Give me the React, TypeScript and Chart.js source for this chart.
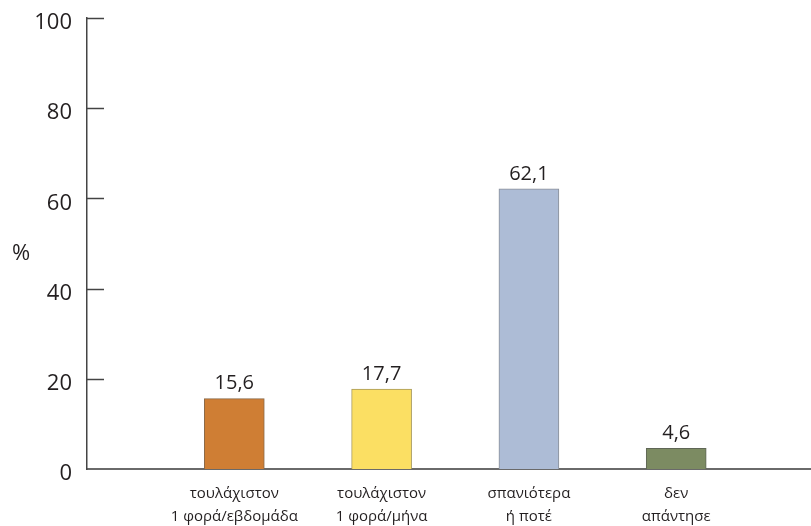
import React, { useEffect, useRef } from "react";
import { Chart, registerables } from "chart.js";

Chart.register(...registerables);

const CATEGORIES: string[][] = [
  ["τουλάχιστον", "1 φορά/εβδομάδα"],
  ["τουλάχιστον", "1 φορά/μήνα"],
  ["σπανιότερα", "ή ποτέ"],
  ["δεν", "απάντησε"],
];
const POSITIONS = [1, 2, 3, 4];
const VALUES = [15.6, 17.7, 62.1, 4.6];
const Y_TICKS = [0, 20, 40, 60, 80, 100];
const COLORS = ["#cf7e34", "#fbdf63", "#adbcd6", "#7c8b62"];
const BORDERS = ["#8a6a4a", "#a99a5a", "#8a8f99", "#5f6656"];
const FONT = "'Open Sans', 'Noto Sans', sans-serif";

const overlay = {
  id: "overlay",
  afterDatasetsDraw(chart: any) {
    const ctx = chart.ctx;
    const yScale = chart.scales.y;
    const area = chart.chartArea;
    ctx.save();
    ctx.strokeStyle = "#444";
    ctx.lineWidth = 1.5;
    Y_TICKS.forEach((v) => {
      if (v === 0) return;
      const py = Math.round(yScale.getPixelForValue(v)) + 0.5;
      ctx.beginPath();
      ctx.moveTo(area.left, py);
      ctx.lineTo(area.left + 17, py);
      ctx.stroke();
    });
    ctx.fillStyle = "#231f20";
    ctx.font = `20px ${FONT}`;
    ctx.textAlign = "center";
    ctx.textBaseline = "bottom";
    const meta = chart.getDatasetMeta(0);
    meta.data.forEach((el: any, i: number) => {
      ctx.fillText(String(VALUES[i]).replace(".", ","), el.x, el.y - 5);
    });
    ctx.font = `22px ${FONT}`;
    ctx.textBaseline = "middle";
    ctx.fillText("%", 21, 254);
    ctx.restore();
  },
};

export default function App() {
  const ref = useRef<HTMLCanvasElement | null>(null);
  useEffect(() => {
    if (!ref.current) return;
    const chart = new Chart(ref.current, {
      type: "bar",
      data: {
        datasets: [
          {
            data: POSITIONS.map((x, i) => ({ x, y: VALUES[i] })),
            backgroundColor: COLORS,
            borderColor: BORDERS,
            borderWidth: 1,
            barThickness: 60,
          },
        ],
      },
      options: {
        animation: false,
        responsive: true,
        maintainAspectRatio: false,
        layout: { padding: { top: 18, right: 0, bottom: 0, left: 0 } },
        plugins: { legend: { display: false }, tooltip: { enabled: false } },
        scales: {
          x: {
            type: "linear",
            offset: false,
            min: 0,
            max: 4.915,
            afterBuildTicks: (scale: any) => {
              scale.ticks = POSITIONS.map((v) => ({ value: v }));
            },
            afterFit: (scale: any) => {
              scale.height = 57;
              scale.paddingLeft = 0;
              scale.paddingRight = 0;
            },
            grid: { display: false, drawTicks: false, offset: false },
            border: { color: "#6a6a6a", width: 2 },
            ticks: {
              autoSkip: false,
              maxRotation: 0,
              padding: 13,
              color: "#231f20",
              font: { family: FONT, size: 15, lineHeight: 1.55 },
              callback: (v: any) => CATEGORIES[Number(v) - 1] ?? "",
            },
          },
          y: {
            min: 0,
            max: 100,
            afterBuildTicks: (scale: any) => {
              scale.ticks = Y_TICKS.map((v) => ({ value: v }));
            },
            afterFit: (scale: any) => {
              scale.width = 87;
              scale.paddingTop = 0;
              scale.paddingBottom = 0;
            },
            grid: { display: false, drawTicks: false },
            border: { color: "#444", width: 1.5 },
            ticks: {
              padding: 15,
              labelOffset: 5,
              color: "#231f20",
              font: { family: FONT, size: 22 },
            },
          },
        },
      },
      plugins: [overlay],
    } as any);
    return () => chart.destroy();
  }, []);
  return (
    <div style={{ position: "fixed", left: 0, top: 0, width: 811, height: 526, background: "#fff" }}>
      <canvas ref={ref} />
    </div>
  );
}
